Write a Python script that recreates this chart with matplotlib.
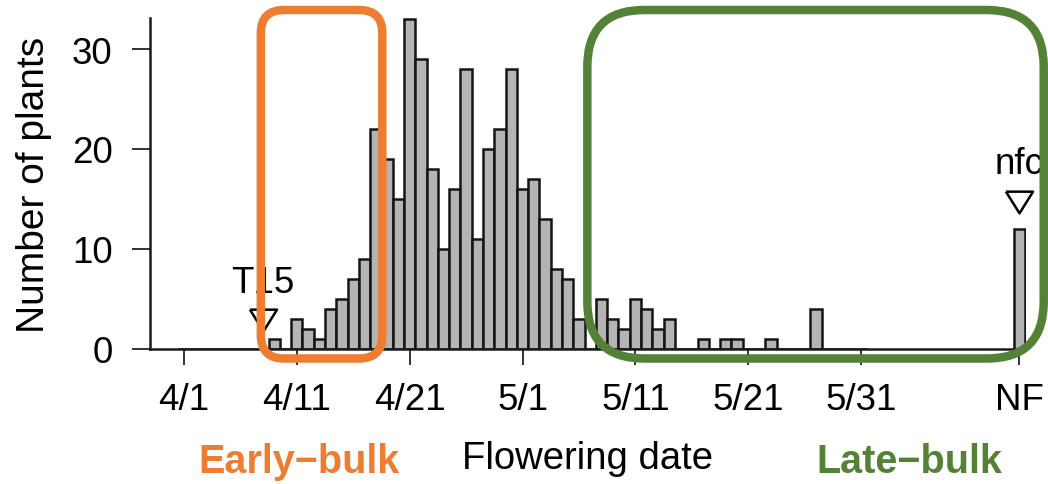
import matplotlib.pyplot as plt
from matplotlib.patches import FancyBboxPatch

plt.rcParams['font.family'] = ['Liberation Sans', 'DejaVu Sans']

# plants flowering per day, day 0 = 4/1 ... day 60 = 5/31
days = list(range(61))
counts = [0, 0, 0, 0, 0, 0, 0, 0, 1, 0,
          3, 2, 1, 4, 5, 7, 9, 22, 19, 15,
          33, 29, 18, 10, 16, 28, 11, 20, 22, 28,
          16, 17, 13, 8, 7, 3, 0, 5, 3, 2,
          5, 4, 2, 3, 0, 0, 1, 0, 1, 1,
          0, 0, 1, 0, 0, 0, 4, 0, 0, 0, 0]
nf_day = 74
nf_count = 12

tick_days = [0, 10, 20, 30, 40, 50, 60, nf_day]
tick_labels = ["4/1", "4/11", "4/21", "5/1", "5/11", "5/21", "5/31", "NF"]

orange = "#EE7D31"
green = "#538135"

fig = plt.figure(figsize=(10.48, 4.85), dpi=100)
ax = fig.add_axes([150 / 1048, 1 - 350 / 485, 876 / 1048, 331 / 485])

ax.bar(days, counts, width=1.0, color="#b4b4b4", edgecolor="#151515",
       linewidth=1.8, zorder=2)
ax.bar([nf_day], [nf_count], width=1.0, color="#b4b4b4", edgecolor="#151515",
       linewidth=1.8, zorder=2)

ax.set_xlim(-3, 74.6)
ax.set_ylim(0, 33.1)
ax.set_yticks([0, 10, 20, 30])
ax.set_xticks(tick_days)
ax.set_xticklabels(tick_labels)

for s in ["top", "right"]:
    ax.spines[s].set_visible(False)
for s in ["left", "bottom"]:
    ax.spines[s].set_linewidth(1.8)
    ax.spines[s].set_color("#1a1a1a")

ax.tick_params(axis="x", length=11.5, width=1.4, color="#333333",
               labelsize=26.5, pad=12)
ax.tick_params(axis="y", length=13, width=1.4, color="#333333",
               labelsize=26.5, pad=14)

ax.set_ylabel("Number of plants", fontsize=28, labelpad=14)
ax.set_xlabel("Flowering date", fontsize=27.5, labelpad=17)

# open triangles marking the parental lines
tri = [(-1, 0.8), (1, 0.8), (0, -0.8), (-1, 0.8)]
ax.plot([7], [2.9], marker=tri, ms=19.5, mfc="white", mec="black",
        mew=1.8, ls="none", clip_on=False, zorder=4)
ax.text(7, 6.6, "T15", fontsize=26.5, ha="center", va="center")
ax.plot([nf_day], [14.7], marker=tri, ms=19.5, mfc="white", mec="black",
        mew=1.8, ls="none", clip_on=False, zorder=4)
ax.text(nf_day, 18.5, "nfc", fontsize=26.5, ha="center", va="center")

# rounded frames for the two bulks
aspect = 11.29 / 10
early = FancyBboxPatch((6.82, -0.95), 17.58 - 6.82, 33.9 + 0.95,
                       boxstyle="round,pad=0,rounding_size=2.05",
                       mutation_aspect=aspect, fill=False,
                       edgecolor=orange, linewidth=6.1, clip_on=False,
                       zorder=5)
late = FancyBboxPatch((35.74, -0.95), 76.17 - 35.74, 33.9 + 0.95,
                      boxstyle="round,pad=0,rounding_size=5.05",
                      mutation_aspect=aspect, fill=False,
                      edgecolor=green, linewidth=6.1, clip_on=False,
                      zorder=5)
ax.add_patch(early)
ax.add_patch(late)

fig.text(299 / 1048, 1 - 462 / 485, "Early\u2212bulk", color=orange,
         fontsize=28.5, fontweight="bold", ha="center", va="center")
fig.text(909 / 1048, 1 - 462 / 485, "Late\u2212bulk", color=green,
         fontsize=28.5, fontweight="bold", ha="center", va="center")

fig.savefig("out.png", dpi=100)
